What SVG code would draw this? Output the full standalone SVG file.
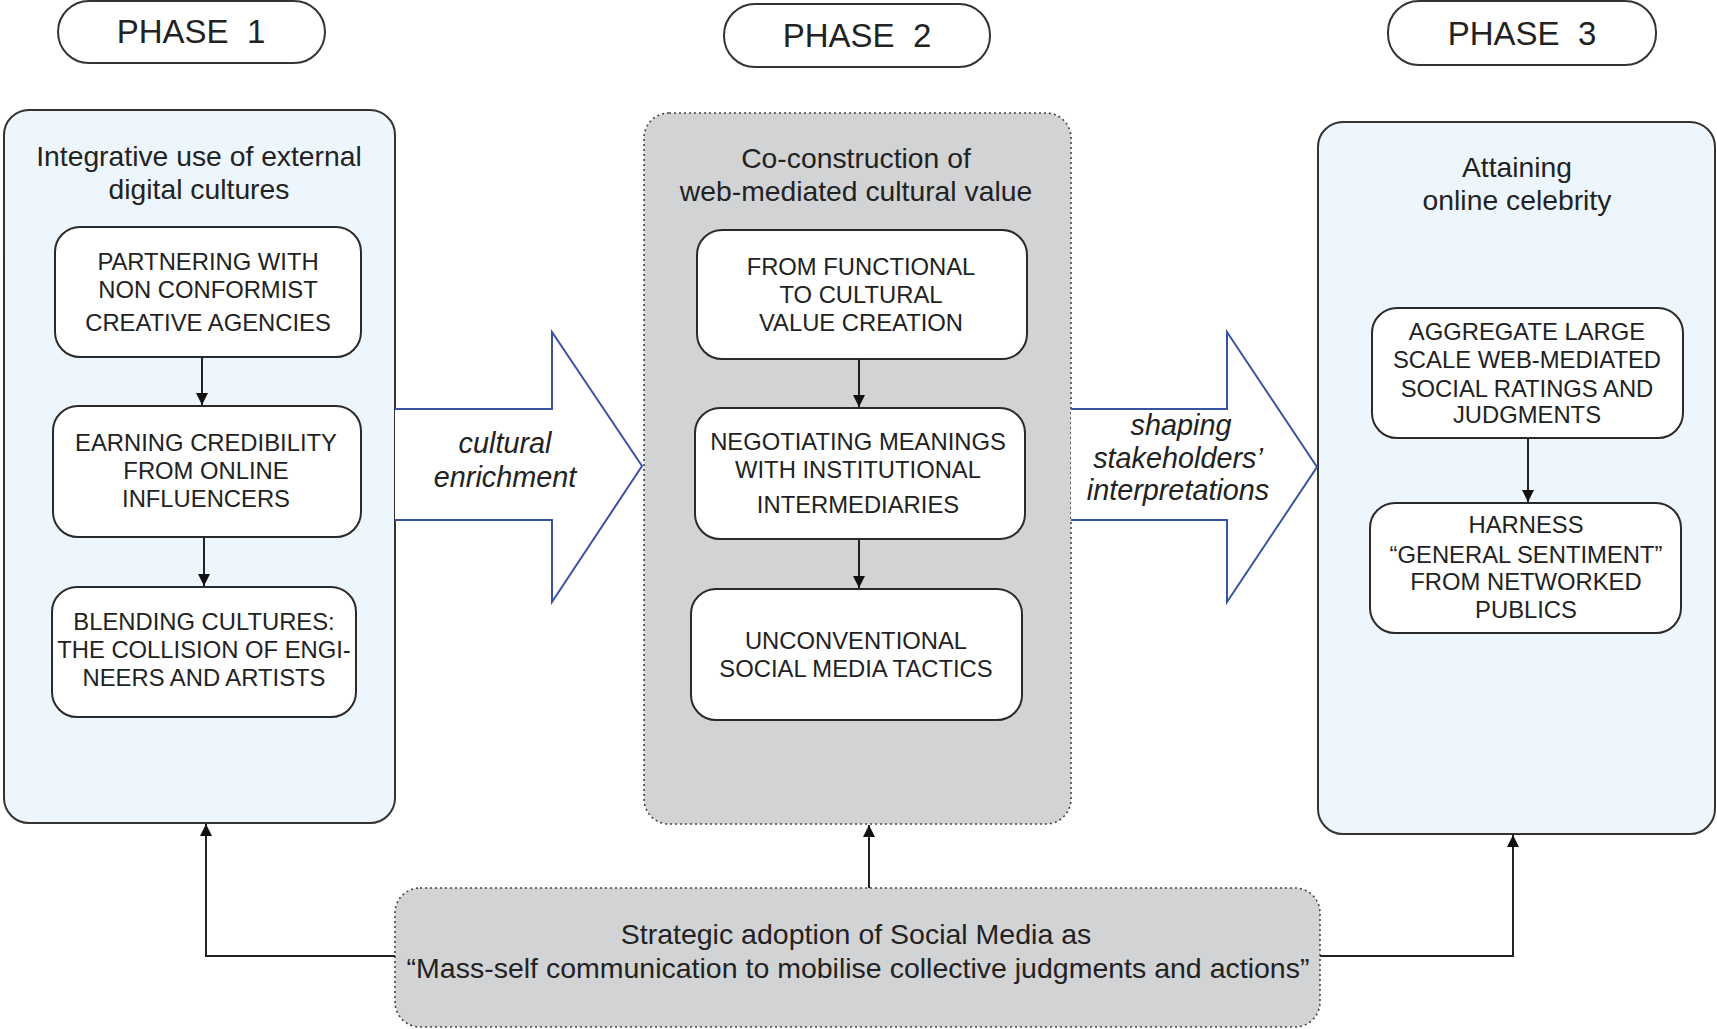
<svg xmlns="http://www.w3.org/2000/svg" width="1717" height="1029" viewBox="0 0 1717 1029">
  <style>
    .phase { fill: #ffffff; stroke: #333333; stroke-width: 2; }
    .phase-text { font-family: "Liberation Sans", Arial, sans-serif; font-size: 33px; fill: #222222; text-anchor: middle; }
    .panel { fill: #eef6fd; stroke: #333333; stroke-width: 2; }
    .panel-dotted { fill: #d2d3d5; stroke: #444444; stroke-width: 1.6; stroke-dasharray: 2 3; }
    .title { font-family: "Liberation Sans", Arial, sans-serif; font-size: 28.3px; fill: #222222; text-anchor: middle; }
    .box { fill: #ffffff; stroke: #2a2a2a; stroke-width: 2; }
    .box-text { font-family: "Liberation Sans", Arial, sans-serif; font-size: 23.8px; fill: #222222; text-anchor: middle; }
    .flow { fill: #ffffff; stroke: #3953a4; stroke-width: 2; stroke-linejoin: miter; }
    .flow-text { font-family: "Liberation Sans", Arial, sans-serif; font-size: 28.8px; font-style: italic; fill: #222222; text-anchor: middle; }
    .conn { fill: none; stroke: #222222; stroke-width: 2; }
    .base-text { font-family: "Liberation Sans", Arial, sans-serif; font-size: 28.5px; fill: #222222; text-anchor: middle; }
  </style>
  <defs>
    <marker id="arrow" viewBox="0 0 10 10" refX="10" refY="5" markerWidth="6" markerHeight="7" markerUnits="strokeWidth" orient="auto">
      <path d="M0,0 L10,5 L0,10 z" fill="#111111"/>
    </marker>
  </defs>

  <!-- phase headers -->
  <g id="phase1">
    <rect class="phase" x="58" y="1" width="267" height="62" rx="31"/>
    <text class="phase-text" x="191" y="43" xml:space="preserve">PHASE  1</text>
  </g>
  <g id="phase2">
    <rect class="phase" x="724" y="4" width="266" height="63" rx="31"/>
    <text class="phase-text" x="857" y="47" xml:space="preserve">PHASE  2</text>
  </g>
  <g id="phase3">
    <rect class="phase" x="1388" y="1" width="268" height="64" rx="31"/>
    <text class="phase-text" x="1522" y="45" xml:space="preserve">PHASE  3</text>
  </g>

  <!-- phase panels -->
  <g id="panel1">
    <rect class="panel" x="4" y="110" width="391" height="713" rx="25"/>
    <text class="title" x="199" y="166">Integrative use of external</text>
    <text class="title" x="199" y="199">digital cultures</text>
  </g>
  <g id="panel2">
    <rect class="panel-dotted" x="644" y="113" width="427" height="711" rx="25"/>
    <text class="title" x="856" y="168">Co-construction of</text>
    <text class="title" x="856" y="201">web-mediated cultural value</text>
  </g>
  <g id="panel3">
    <rect class="panel" x="1318" y="122" width="397" height="712" rx="25"/>
    <text class="title" x="1517" y="177">Attaining</text>
    <text class="title" x="1517" y="210">online celebrity</text>
  </g>

  <!-- phase 1 steps -->
  <g id="partnering">
    <rect class="box" x="55" y="227" width="306" height="130" rx="25"/>
    <text class="box-text" x="208" y="270">PARTNERING WITH</text>
    <text class="box-text" x="208" y="298">NON CONFORMIST</text>
    <text class="box-text" x="208" y="331">CREATIVE AGENCIES</text>
  </g>
  <g id="earning">
    <rect class="box" x="53" y="406" width="308" height="131" rx="25"/>
    <text class="box-text" x="206" y="451">EARNING CREDIBILITY</text>
    <text class="box-text" x="206" y="479">FROM ONLINE</text>
    <text class="box-text" x="206" y="507">INFLUENCERS</text>
  </g>
  <g id="blending">
    <rect class="box" x="52" y="587" width="304" height="130" rx="25"/>
    <text class="box-text" x="204" y="630">BLENDING CULTURES:</text>
    <text class="box-text" x="204" y="658">THE COLLISION OF ENGI-</text>
    <text class="box-text" x="204" y="686">NEERS AND ARTISTS</text>
  </g>

  <!-- phase 2 steps -->
  <g id="functional">
    <rect class="box" x="697" y="230" width="330" height="129" rx="25"/>
    <text class="box-text" x="861" y="275">FROM FUNCTIONAL</text>
    <text class="box-text" x="861" y="303">TO CULTURAL</text>
    <text class="box-text" x="861" y="331">VALUE CREATION</text>
  </g>
  <g id="negotiating">
    <rect class="box" x="695" y="408" width="330" height="131" rx="25"/>
    <text class="box-text" x="858" y="450">NEGOTIATING MEANINGS</text>
    <text class="box-text" x="858" y="478">WITH INSTITUTIONAL</text>
    <text class="box-text" x="858" y="513">INTERMEDIARIES</text>
  </g>
  <g id="unconventional">
    <rect class="box" x="691" y="589" width="331" height="131" rx="25"/>
    <text class="box-text" x="856" y="649">UNCONVENTIONAL</text>
    <text class="box-text" x="856" y="677">SOCIAL MEDIA TACTICS</text>
  </g>

  <!-- phase 3 steps -->
  <g id="aggregate">
    <rect class="box" x="1372" y="308" width="311" height="130" rx="25"/>
    <text class="box-text" x="1527" y="340">AGGREGATE LARGE</text>
    <text class="box-text" x="1527" y="368">SCALE WEB-MEDIATED</text>
    <text class="box-text" x="1527" y="397">SOCIAL RATINGS AND</text>
    <text class="box-text" x="1527" y="423">JUDGMENTS</text>
  </g>
  <g id="harness">
    <rect class="box" x="1370" y="503" width="311" height="130" rx="25"/>
    <text class="box-text" x="1526" y="533">HARNESS</text>
    <text class="box-text" x="1526" y="563">“GENERAL SENTIMENT”</text>
    <text class="box-text" x="1526" y="590">FROM NETWORKED</text>
    <text class="box-text" x="1526" y="618">PUBLICS</text>
  </g>

  <!-- base: social media adoption -->
  <g id="social-media">
    <rect class="panel-dotted" x="395" y="888" width="925" height="139" rx="25"/>
    <text class="base-text" x="856" y="944">Strategic adoption of Social Media as</text>
    <text class="base-text" x="858" y="978">“Mass-self communication to mobilise collective judgments and actions”</text>
  </g>

  <!-- block arrows between phases -->
  <g id="flow-enrichment">
    <path class="flow" d="M395,409 H552 V332 L642,466 L552,602 V520 H395"/>
    <text class="flow-text" x="505" y="453">cultural</text>
    <text class="flow-text" x="505" y="487">enrichment</text>
  </g>
  <g id="flow-interpretations">
    <path class="flow" d="M1071,409 H1227 V332 L1317,467 L1227,602 V520 H1071"/>
    <text class="flow-text" x="1181" y="435">shaping</text>
    <text class="flow-text" x="1178" y="468">stakeholders’</text>
    <text class="flow-text" x="1178" y="500">interpretations</text>
  </g>

  <!-- connectors -->
  <g id="connectors">
    <line class="conn" x1="202" y1="357" x2="202" y2="405" marker-end="url(#arrow)"/>
    <line class="conn" x1="204" y1="537" x2="204" y2="586" marker-end="url(#arrow)"/>
    <line class="conn" x1="859" y1="359" x2="859" y2="407" marker-end="url(#arrow)"/>
    <line class="conn" x1="859" y1="539" x2="859" y2="588" marker-end="url(#arrow)"/>
    <line class="conn" x1="1528" y1="438" x2="1528" y2="502" marker-end="url(#arrow)"/>
    <polyline class="conn" points="395,956 206,956 206,824" marker-end="url(#arrow)"/>
    <line class="conn" x1="869" y1="888" x2="869" y2="825" marker-end="url(#arrow)"/>
    <polyline class="conn" points="1320,956 1513,956 1513,835" marker-end="url(#arrow)"/>
  </g>
</svg>
